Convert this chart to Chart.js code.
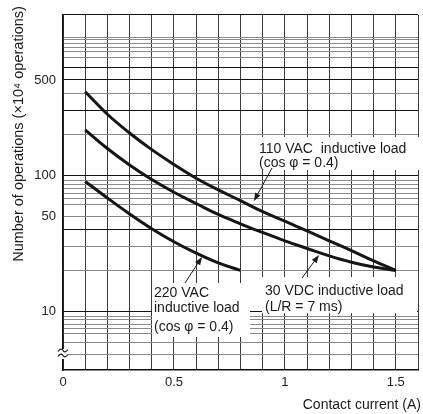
<!DOCTYPE html>
<html lang="en">
<head>
	<meta charset="UTF-8">
	<title>Contact current vs operations</title>
	<script src="https://cdn.jsdelivr.net/npm/chart.js"></script>
	<style>
		body { margin: 0; background: #fff; }
		canvas { display: block; }
	</style>
</head>
<body>
	<canvas id="lifeChart" width="423" height="414"></canvas>

	<script>
		// curve values (x in A, y in x10^4 operations)
		const currentA = [0.1, 0.2, 0.3, 0.4, 0.5, 0.6, 0.7, 0.8, 0.9, 1.0, 1.1, 1.2, 1.3, 1.4, 1.5];
		const ops110VAC = [410, 280, 204, 154, 120, 95, 78, 65, 54, 46, 39, 33, 28, 23.5, 20];
		const ops30VDC = [215, 157, 119, 93, 75, 62, 51.5, 44, 38, 33, 29, 25.6, 23, 21.2, 20];
		const current220 = [0.1, 0.2, 0.3, 0.4, 0.5, 0.6, 0.7, 0.8];
		const ops220VAC = [90, 68, 52, 40.5, 32.5, 26.8, 22.7, 20];

		const xTickLabels = [0, 0.5, 1, 1.5];
		const yTickLabels = [10, 50, 100, 500];
		const yGridLines = [4.8, 5.9, 6.85, 7.5, 8, 8.7, 9.2, 10, 20, 30, 40, 50, 61, 68, 74, 80, 86, 92, 100,
			200, 300, 400, 500, 615, 725, 810, 860, 920, 985, 1020];
		const yDarkLines = [10, 40, 100, 300, 500, 615];

		const FONT = "'Liberation Sans', Arial, sans-serif";

		function pairs(xs, ys) {
			return xs.map((x, i) => ({ x: x, y: ys[i] }));
		}

		function curve(xs, ys) {
			return {
				data: pairs(xs, ys),
				borderColor: '#151515',
				borderWidth: 3,
				pointRadius: 0,
				tension: 0.4,
				fill: false
			};
		}

		function arrow(c, x1, y1, x2, y2) {
			const a = Math.atan2(y2 - y1, x2 - x1);
			c.beginPath();
			c.moveTo(x1, y1);
			c.lineTo(x2 - 6 * Math.cos(a), y2 - 6 * Math.sin(a));
			c.stroke();
			c.beginPath();
			c.moveTo(x2, y2);
			c.lineTo(x2 - 8 * Math.cos(a) + 3 * Math.sin(a), y2 - 8 * Math.sin(a) - 3 * Math.cos(a));
			c.lineTo(x2 - 8 * Math.cos(a) - 3 * Math.sin(a), y2 - 8 * Math.sin(a) + 3 * Math.cos(a));
			c.closePath();
			c.fill();
		}

		// white label boxes, label text, arrows, axis titles, axis break
		const notes = {
			id: 'notes',
			beforeDatasetsDraw(chart) {
				const c = chart.ctx;
				c.save();
				c.fillStyle = '#fff';
				c.fillRect(253, 137, 170, 33);
				c.fillRect(262, 277, 155, 36);
				c.fillRect(152, 283, 98, 54);
				c.fillRect(58, 349, 10, 10);
				c.restore();
			},
			afterDraw(chart) {
				const c = chart.ctx;
				c.save();
				c.fillStyle = '#1a1a1a';
				c.strokeStyle = '#1a1a1a';
				c.lineWidth = 1;
				c.textBaseline = 'middle';
				c.textAlign = 'left';
				c.font = '14px ' + FONT;
				c.fillText('110 VAC  inductive load', 259, 149);
				c.fillText('(cos \u03c6 = 0.4)', 259, 163);
				c.fillText('30 VDC inductive load', 265, 291);
				c.fillText('(L/R = 7 ms)', 265, 307);
				c.fillText('220 VAC', 154, 293);
				c.fillText('inductive load', 154, 308);
				c.fillText('(cos \u03c6 = 0.4)', 154, 327);

				arrow(c, 272, 168, 254, 201);
				arrow(c, 302, 278, 319, 255);
				arrow(c, 185, 283, 202, 257);

				// axis titles
				c.textAlign = 'right';
				c.fillText('Contact current (A)', 421, 405);
				c.translate(19, 134);
				c.rotate(-Math.PI / 2);
				c.textAlign = 'center';
				c.font = '14.5px ' + FONT;
				c.fillText('Number of operations (\u00d710\u2074 operations)', 0, 0);
				c.restore();

				// break mark on the y axis
				c.save();
				c.strokeStyle = '#1a1a1a';
				c.lineWidth = 1.2;
				[350.5, 355.5].forEach(y => {
					c.beginPath();
					c.moveTo(58, y + 1);
					c.bezierCurveTo(60, y - 2, 62, y - 2, 63, y);
					c.bezierCurveTo(64, y + 2, 66, y + 2, 68, y - 1);
					c.stroke();
				});
				c.restore();
			}
		};

		new Chart(document.getElementById('lifeChart'), {
			type: 'line',
			data: {
				datasets: [
					curve(currentA, ops110VAC),
					curve(currentA, ops30VDC),
					curve(current220, ops220VAC)
				]
			},
			options: {
				responsive: false,
				animation: false,
				layout: { padding: { top: 9, right: 0, left: 0, bottom: 0 } },
				plugins: {
					legend: { display: false },
					tooltip: { enabled: false }
				},
				scales: {
					x: {
						type: 'linear',
						min: 0,
						max: 1.6,
						afterFit: s => { s.height = 44; },
						border: { color: '#111', width: 1.5 },
						grid: { color: '#3a3a3a', lineWidth: 1, drawTicks: false },
						ticks: {
							stepSize: 0.1,
							autoSkip: false,
							maxRotation: 0,
							padding: 5,
							color: '#222',
							font: { family: FONT, size: 13 },
							callback: v => {
								const hit = xTickLabels.find(t => Math.abs(t - v) < 1e-6);
								return hit === undefined ? '' : String(hit);
							}
						}
					},
					y: {
						type: 'logarithmic',
						min: 3.72,
						max: 1503,
						afterFit: s => { s.width = 63; },
						afterBuildTicks: s => {
							s.ticks = yGridLines.concat([s.max]).map(v => ({ value: v }));
						},
						border: { color: '#111', width: 1.5 },
						grid: {
							drawTicks: false,
							lineWidth: 1,
							color: ctx => {
								const v = ctx.tick ? ctx.tick.value : 0;
								if (v === 1503 || yDarkLines.includes(v)) return '#111';
								return '#8a8a8a';
							}
						},
						ticks: {
							autoSkip: false,
							padding: 7,
							color: '#222',
							font: { family: FONT, size: 13 },
							callback: v => yTickLabels.includes(v) ? String(v) : ''
						}
					}
				}
			},
			plugins: [notes]
		});
	</script>
</body>
</html>
